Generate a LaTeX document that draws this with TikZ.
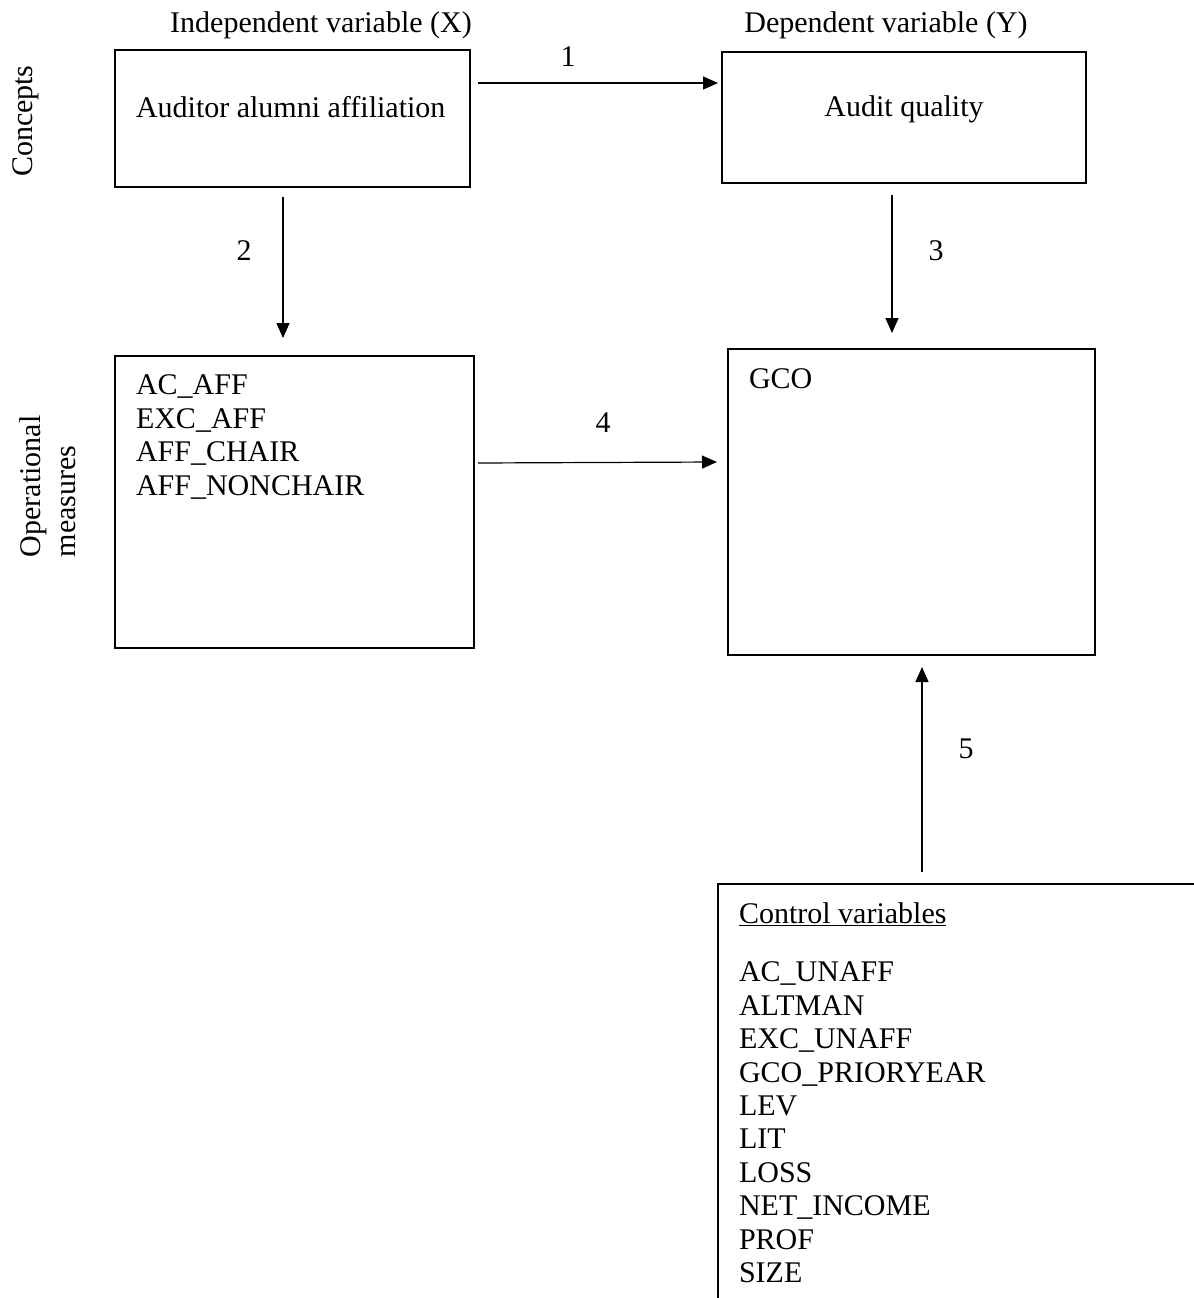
\documentclass[tikz,border=0pt]{standalone}
\usepackage{fontspec}
\setmainfont{Liberation Serif}
\usetikzlibrary{arrows.meta,fit}
\begin{document}
\begin{tikzpicture}[x=0.75pt,y=-0.75pt,
  every node/.style={inner sep=0pt,outer sep=0pt,font=\fontsize{22.5}{25.05}\selectfont},
  box/.style={draw,line width=1.5pt,inner sep=0pt},
  txt/.style={anchor=base west},
  ctxt/.style={anchor=base},
  vlab/.style={anchor=base west,rotate=90},
  arr/.style={line width=0.9pt,-{Triangle[length=11.25pt,width=9.75pt]}}]
\useasboundingbox (0,0) rectangle (1194,1298);
\clip (0,0) rectangle (1194,1298);
\fill[white] (0,0) rectangle (1194,1298);

% headings
\node[ctxt] (hx) at (321,33) {Independent variable (X)};
\node[ctxt] (hy) at (886,33) {Dependent variable (Y)};
\node[vlab] (concepts) at (32,177) {Concepts};
\node[vlab] (op1) at (40,557) {Operational};
\node[vlab] (op2) at (75,557) {measures};

% boxes
\coordinate (a1) at (115,50);  \coordinate (a2) at (470,187);
\coordinate (b1) at (722,52);  \coordinate (b2) at (1086,183);
\coordinate (c1) at (115,356); \coordinate (c2) at (474,648);
\coordinate (d1) at (728,349); \coordinate (d2) at (1095,655);
\coordinate (e1) at (718,884); \coordinate (e2) at (1240,1340);
\node[box,fit=(a1)(a2)] (A) {};
\node[box,fit=(b1)(b2)] (B) {};
\node[box,fit=(c1)(c2)] (C) {};
\node[box,fit=(d1)(d2)] (D) {};
\node[box,fit=(e1)(e2)] (E) {};

% box texts
\node[txt] (ta) at (136,118) {Auditor alumni affiliation};
\node[ctxt] (tb) at (904,117) {Audit quality};
\node[txt,align=left,anchor=north west] (tc) at (136,375) {AC\_AFF\\EXC\_AFF\\AFF\_CHAIR\\AFF\_NONCHAIR};
\node[txt] (td) at (749,388) {GCO};
\node[txt] (te) at (739,923) {\underline{Control variables}};
\node[align=left,anchor=north west] (tl) at (739,962) {AC\_UNAFF\\ALTMAN\\EXC\_UNAFF\\GCO\_PRIORYEAR\\LEV\\LIT\\LOSS\\NET\_INCOME\\PROF\\SIZE};

% connectors
\draw[arr] ([shift={(8,33)}]A.north east) -- ([shift={(-4,31)}]B.north west);
\draw[arr] ([shift={(168,10)}]A.south west) -- ([shift={(168,-18)}]C.north west);
\draw[arr] ([shift={(170,12)}]B.south west) -- ([shift={(164,-16)}]D.north west);
\draw[arr] ([shift={(4,107)}]C.north east) -- ([shift={(-11,113)}]D.north west);
\draw[arr] ([shift={(204,-12)}]E.north west) -- ([shift={(194,12)}]D.south west);

% connector labels
\node[ctxt] (l1) at (568,67) {1};
\node[ctxt] (l2) at (244,260) {2};
\node[ctxt] (l3) at (936,260) {3};
\node[ctxt] (l4) at (603,432) {4};
\node[ctxt] (l5) at (966,758) {5};
\end{tikzpicture}
\end{document}
